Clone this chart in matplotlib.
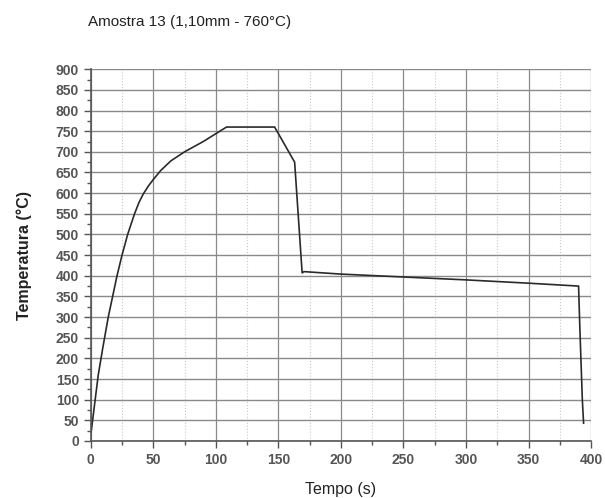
import matplotlib.pyplot as plt
from matplotlib.ticker import MultipleLocator

plt.rcParams['font.family'] = ['Liberation Sans', 'DejaVu Sans']

# curve: tempo (s) / temperatura (C)
tempo = [0, 0.5, 6, 9.6, 14, 17.5, 21, 25, 29.5, 35, 38.5, 42, 46, 50, 56, 64,
         75, 90, 108.5, 130, 147, 163, 169, 170.5, 200, 250, 300, 350, 390, 391,
         393, 394]
temperatura = [20, 26, 160, 225, 300, 350, 400, 450, 500, 550, 577, 598, 617, 633,
               655, 678, 700, 725, 760, 760, 760, 675, 407, 410, 404, 397, 390,
               382, 375, 275, 100, 43]

xticks = [0, 50, 100, 150, 200, 250, 300, 350, 400]
yticks = list(range(0, 901, 50))

fig = plt.figure(figsize=(6.05, 4.98), dpi=100)
ax = fig.add_axes([0.150, 0.1145, 0.827, 0.7465])

ax.plot(tempo, temperatura, color='#2a2a2a', lw=1.2)

ax.set_xlim(0, 400)
ax.set_ylim(0, 900)
ax.set_xticks(xticks)
ax.set_yticks(yticks)
ax.xaxis.set_minor_locator(MultipleLocator(25))
ax.yaxis.set_minor_locator(MultipleLocator(25))

# grids: solid at majors, dotted at x minors
ax.grid(which='major', axis='y', color='#8a8a8a', lw=1.0)
ax.grid(which='major', axis='x', color='#8a8a8a', lw=0.9)
ax.grid(which='minor', axis='x', color='#c8c8c8', lw=0.8, ls=':')
ax.set_axisbelow(True)

for s in ['top', 'right']:
    ax.spines[s].set_visible(False)
for s in ['left', 'bottom']:
    ax.spines[s].set_color('#555555')
    ax.spines[s].set_linewidth(1.2)

ax.tick_params(which='major', length=5, width=1, color='#555555',
               labelsize=10, labelcolor='#555555')
ax.tick_params(which='minor', length=3, width=1, color='#555555')
for lbl in ax.get_yticklabels() + ax.get_xticklabels():
    lbl.set_fontweight('bold')

ax.set_xlabel('Tempo (s)', fontsize=11.5, color='#222222', labelpad=11)
ax.set_ylabel('Temperatura (°C)', fontsize=11.5, color='#222222', fontweight='bold', labelpad=17)

fig.text(88 / 605, 1 - 22 / 498, 'Amostra 13 (1,10mm - 760°C)', fontsize=11,
         color='#222222', ha='left', va='center')

fig.savefig('out.png', dpi=100)
